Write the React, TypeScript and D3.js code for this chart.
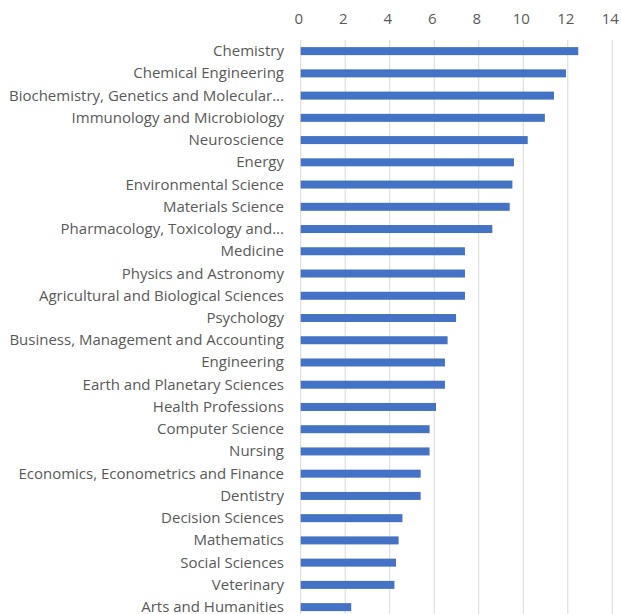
import React, { useEffect, useRef } from "react";
import * as d3 from "d3";

const categories = [
  "Chemistry",
  "Chemical Engineering",
  "Biochemistry, Genetics and Molecular...",
  "Immunology and Microbiology",
  "Neuroscience",
  "Energy",
  "Environmental Science",
  "Materials Science",
  "Pharmacology, Toxicology and...",
  "Medicine",
  "Physics and Astronomy",
  "Agricultural and Biological Sciences",
  "Psychology",
  "Business, Management and Accounting",
  "Engineering",
  "Earth and Planetary Sciences",
  "Health Professions",
  "Computer Science",
  "Nursing",
  "Economics, Econometrics and Finance",
  "Dentistry",
  "Decision Sciences",
  "Mathematics",
  "Social Sciences",
  "Veterinary",
  "Arts and Humanities",
];

const values = [
  12.47, 11.92, 11.38, 10.97, 10.2, 9.58, 9.51, 9.39, 8.61, 7.38, 7.38, 7.38,
  6.98, 6.6, 6.48, 6.48, 6.08, 5.79, 5.79, 5.39, 5.39, 4.57, 4.4, 4.28, 4.21,
  2.27,
];

const ticks = [0, 2, 4, 6, 8, 10, 12, 14];

const W = 621;
const H = 614;

export default function App() {
  const ref = useRef<SVGSVGElement>(null);

  useEffect(() => {
    const svg = d3.select(ref.current);
    svg.selectAll("*").remove();

    const x = d3.scaleLinear().domain([0, 14]).range([300.7, 612.3]);
    const y = d3
      .scaleBand<string>()
      .domain(categories)
      .range([40, 40 + 26 * 22.24])
      .paddingInner(0.64)
      .paddingOuter(0.32);

    const font = "Open Sans, sans-serif";

    svg
      .append("g")
      .selectAll("line")
      .data(ticks)
      .join("line")
      .attr("x1", (d) => x(d))
      .attr("x2", (d) => x(d))
      .attr("y1", 40)
      .attr("y2", H)
      .attr("stroke", "#d9d9d9")
      .attr("stroke-width", 1);

    svg
      .append("g")
      .selectAll("text")
      .data(ticks)
      .join("text")
      .attr("x", (d) => x(d) - 2)
      .attr("y", 18)
      .attr("text-anchor", "middle")
      .attr("dominant-baseline", "central")
      .attr("font-family", font)
      .attr("font-size", 15)
      .attr("fill", "#595959")
      .text((d) => String(d));

    svg
      .append("g")
      .selectAll("rect")
      .data(categories)
      .join("rect")
      .attr("x", x(0))
      .attr("y", (d) => y(d)!)
      .attr("width", (_d, i) => x(values[i]) - x(0))
      .attr("height", y.bandwidth())
      .attr("fill", "#4472C4");

    svg
      .append("g")
      .selectAll("text")
      .data(categories)
      .join("text")
      .attr("x", 284)
      .attr("y", (d) => y(d)! + y.bandwidth() / 2 - 1)
      .attr("text-anchor", "end")
      .attr("dominant-baseline", "central")
      .attr("font-family", font)
      .attr("font-size", 15)
      .attr("fill", "#595959")
      .text((d) => d);
  }, []);

  return (
    <svg
      ref={ref}
      width={W}
      height={H}
      style={{ position: "absolute", left: 0, top: 0, background: "#fff" }}
    />
  );
}
